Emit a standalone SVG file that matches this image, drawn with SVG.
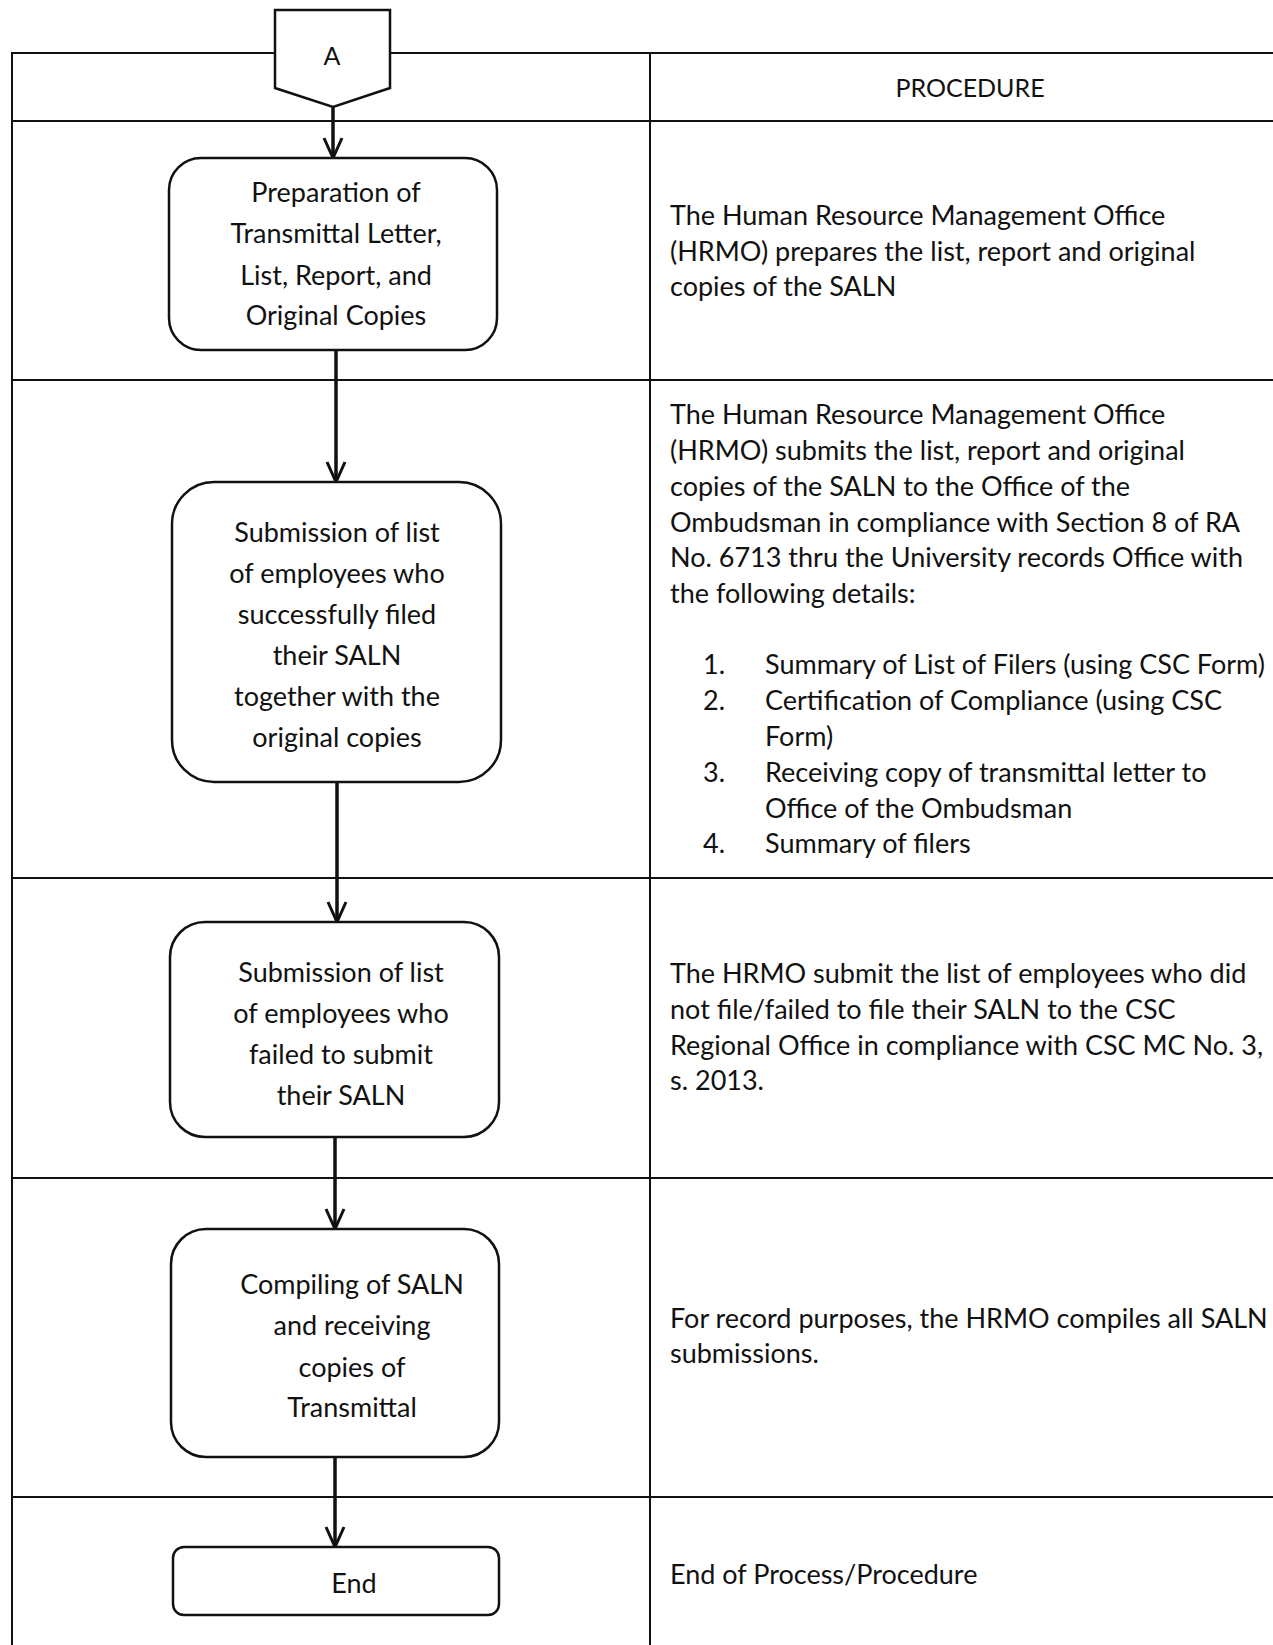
<svg xmlns="http://www.w3.org/2000/svg" width="1273" height="1645" viewBox="0 0 1273 1645">
<style>
  .grid { stroke: #111; stroke-width: 2; fill: none; }
  .box { fill: #fff; stroke: #111; stroke-width: 2.5; }
  .t { font-family: Lato, "Liberation Sans", sans-serif; font-size: 27px; fill: #111; }
  .h { font-size: 25px; }
  .c { text-anchor: middle; }
  .conn { stroke: #111; stroke-width: 3.5; fill: none; }
</style>
<defs>
  <marker id="arr" markerUnits="userSpaceOnUse" viewBox="-22 -12 24 24" refX="0" refY="0" markerWidth="24" markerHeight="24" orient="auto">
    <path d="M-20,-9 L0,0 L-20,9" fill="none" stroke="#111" stroke-width="3"/>
  </marker>
</defs>
<rect width="1273" height="1645" fill="#fff"/>
<g id="table">
  <line class="grid" x1="12" y1="53" x2="1273" y2="53"/>
  <line class="grid" x1="12" y1="121" x2="1273" y2="121"/>
  <line class="grid" x1="12" y1="380" x2="1273" y2="380"/>
  <line class="grid" x1="12" y1="878" x2="1273" y2="878"/>
  <line class="grid" x1="12" y1="1178" x2="1273" y2="1178"/>
  <line class="grid" x1="12" y1="1497" x2="1273" y2="1497"/>
  <line class="grid" x1="12" y1="52" x2="12" y2="1645"/>
  <line class="grid" x1="650" y1="52" x2="650" y2="1645"/>
  <text class="t h c" x="970" y="97">PROCEDURE</text>
</g>
<g id="connectors">
  <line class="conn" x1="333" y1="107" x2="333" y2="158" marker-end="url(#arr)"/>
  <line class="conn" x1="336" y1="350" x2="336" y2="482" marker-end="url(#arr)"/>
  <line class="conn" x1="337" y1="782" x2="337" y2="922" marker-end="url(#arr)"/>
  <line class="conn" x1="335" y1="1137" x2="335" y2="1229" marker-end="url(#arr)"/>
  <line class="conn" x1="335" y1="1457" x2="335" y2="1547" marker-end="url(#arr)"/>
</g>
<g id="node-A">
  <path class="box" d="M275,10 L390,10 L390,88 L333,107 L275,88 Z"/>
  <text class="t h c" x="332" y="65">A</text>
</g>
<g id="node-prep">
  <rect class="box" x="169" y="158" width="328" height="192" rx="32"/>
  <text class="t c" x="336" y="202">Preparation of</text>
  <text class="t c" x="336" y="243">Transmittal Letter,</text>
  <text class="t c" x="336" y="285">List, Report, and</text>
  <text class="t c" x="336" y="325">Original Copies</text>
</g>
<g id="proc-prep">
  <text class="t" x="670" y="225">The Human Resource Management Office</text>
  <text class="t" x="670" y="261">(HRMO) prepares the list, report and original</text>
  <text class="t" x="670" y="296">copies of the SALN</text>
</g>
<g id="node-submit">
  <rect class="box" x="172" y="482" width="329" height="300" rx="42"/>
  <text class="t c" x="337" y="542">Submission of list</text>
  <text class="t c" x="337" y="583">of employees who</text>
  <text class="t c" x="337" y="624">successfully filed</text>
  <text class="t c" x="337" y="665">their SALN</text>
  <text class="t c" x="337" y="706">together with the</text>
  <text class="t c" x="337" y="747">original copies</text>
</g>
<g id="proc-submit">
  <text class="t" x="670" y="424">The Human Resource Management Office</text>
  <text class="t" x="670" y="460">(HRMO) submits the list, report and original</text>
  <text class="t" x="670" y="496">copies of the SALN to the Office of the</text>
  <text class="t" x="670" y="532">Ombudsman in compliance with Section 8 of RA</text>
  <text class="t" x="670" y="567">No. 6713 thru the University records Office with</text>
  <text class="t" x="670" y="603">the following details:</text>
  <text class="t" x="703" y="674">1.</text>
  <text class="t" x="765" y="674">Summary of List of Filers (using CSC Form)</text>
  <text class="t" x="703" y="710">2.</text>
  <text class="t" x="765" y="710">Certification of Compliance (using CSC</text>
  <text class="t" x="765" y="746">Form)</text>
  <text class="t" x="703" y="782">3.</text>
  <text class="t" x="765" y="782">Receiving copy of transmittal letter to</text>
  <text class="t" x="765" y="818">Office of the Ombudsman</text>
  <text class="t" x="703" y="853">4.</text>
  <text class="t" x="765" y="853">Summary of filers</text>
</g>
<g id="node-failed">
  <rect class="box" x="170" y="922" width="329" height="215" rx="35"/>
  <text class="t c" x="341" y="982">Submission of list</text>
  <text class="t c" x="341" y="1023">of employees who</text>
  <text class="t c" x="341" y="1064">failed to submit</text>
  <text class="t c" x="341" y="1105">their SALN</text>
</g>
<g id="proc-failed">
  <text class="t" x="670" y="983">The HRMO submit the list of employees who did</text>
  <text class="t" x="670" y="1019">not file/failed to file their SALN to the CSC</text>
  <text class="t" x="670" y="1055">Regional Office in compliance with CSC MC No. 3,</text>
  <text class="t" x="670" y="1090">s. 2013.</text>
</g>
<g id="node-compile">
  <rect class="box" x="171" y="1229" width="328" height="228" rx="35"/>
  <text class="t c" x="352" y="1294">Compiling of SALN</text>
  <text class="t c" x="352" y="1335">and receiving</text>
  <text class="t c" x="352" y="1377">copies of</text>
  <text class="t c" x="352" y="1417">Transmittal</text>
</g>
<g id="proc-compile">
  <text class="t" x="670" y="1328">For record purposes, the HRMO compiles all SALN</text>
  <text class="t" x="670" y="1363">submissions.</text>
</g>
<g id="node-end">
  <rect class="box" x="173" y="1547" width="326" height="68" rx="11"/>
  <text class="t c" x="354" y="1593">End</text>
</g>
<g id="proc-end">
  <text class="t" x="670" y="1584">End of Process/Procedure</text>
</g>
</svg>
